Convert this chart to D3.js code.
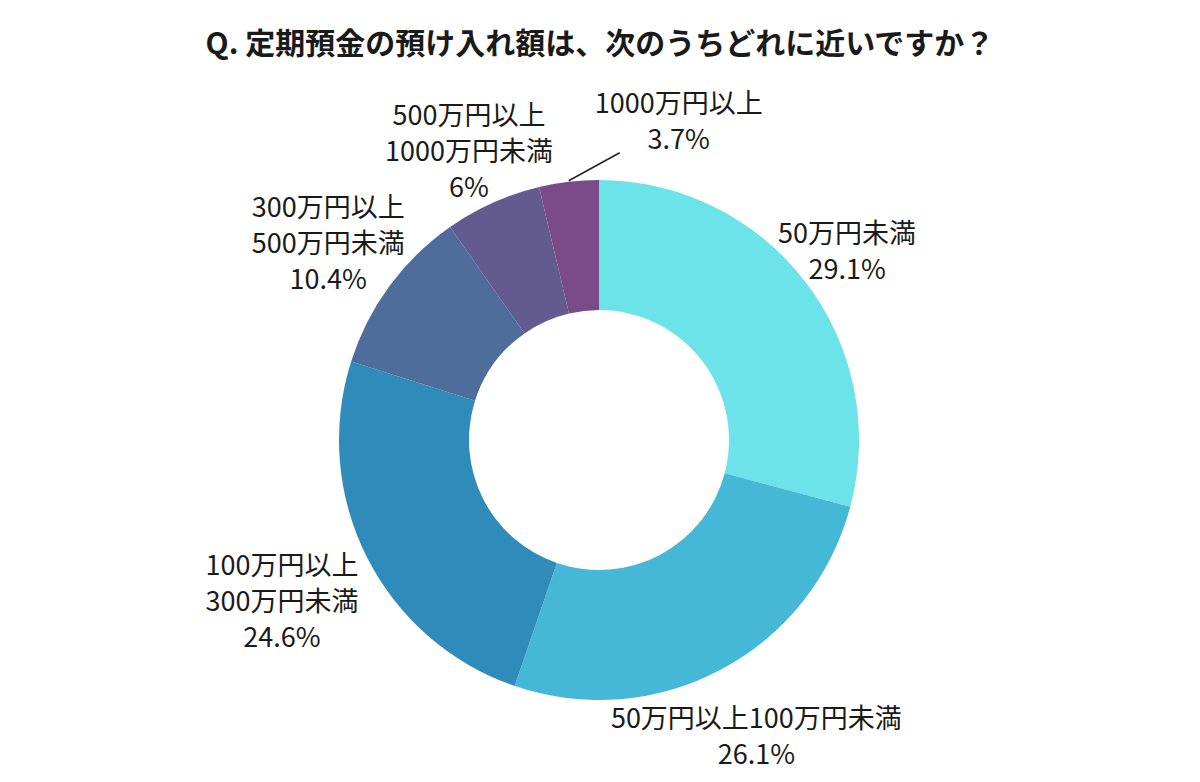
<!DOCTYPE html>
<html>
<head>
<meta charset="utf-8">
<script src="https://cdn.jsdelivr.net/npm/d3@7"></script>
<style>
  html, body { margin: 0; padding: 0; background: #fff; }
  text { font-family: "Noto Sans CJK JP", "Noto Sans", sans-serif; fill: #1a1a1a; }
</style>
</head>
<body>
<div id="canvas"></div>
<script>
//    data
var title = 'Q. 定期預金の預け入れ額は、次のうちどれに近いですか？';
var labels = [
  ['50万円未満'],
  ['50万円以上100万円未満'],
  ['100万円以上', '300万円未満'],
  ['300万円以上', '500万円未満'],
  ['500万円以上', '1000万円未満'],
  ['1000万円以上']
];
var values = [29.1, 26.1, 24.6, 10.4, 6, 3.7];
var colors = ['#6ce3e8', '#45b8d7', '#2f8bba', '#4f6d9b', '#635b8f', '#7a4a8a'];

//    layout
var width = 1200, height = 782;
var cx = 599, cy = 440;
var r_out = 260, r_in = 130;
var lineH = 36;
// distance of each label block centre from the middle
var labelR = [313, 334, 355, 336, 318, 0];

var svg = d3.select('#canvas')
  .append('svg')
  .attr('width', width)
  .attr('height', height);

svg.append('text')
  .attr('x', width / 2)
  .attr('y', 41)
  .attr('text-anchor', 'middle')
  .attr('dominant-baseline', 'central')
  .style('font-size', '30px')
  .style('font-weight', 'bold')
  .text(title);

var pie = d3.pie().sort(null).value(function(d) { return d; });
var arcs = pie(values);

var arc = d3.arc().outerRadius(r_out).innerRadius(r_in);

var g = svg.append('g')
  .attr('transform', 'translate(' + cx + ',' + cy + ')');

g.selectAll('.arc')
  .data(arcs)
  .enter()
  .append('path')
  .attr('class', 'arc')
  .attr('d', arc)
  .attr('fill', function(d, i) { return colors[i]; });

//    labels
arcs.forEach(function(d, i) {
  var mid = (d.startAngle + d.endAngle) / 2;
  var lines = labels[i].concat([d.data + '%']);
  var x, y;
  if (labelR[i] > 0) {
    x = labelR[i] * Math.sin(mid);
    y = -labelR[i] * Math.cos(mid);
  } else {
    // small slice: leader line out of the ring
    var x0 = (r_out + 1) * Math.sin(mid), y0 = -(r_out + 1) * Math.cos(mid);
    var x1 = x0 + 51, y1 = y0 - 28;
    g.append('line')
      .attr('x1', x0).attr('y1', y0)
      .attr('x2', x1).attr('y2', y1)
      .attr('stroke', '#222')
      .attr('stroke-width', 1.5);
    x = x1 + 59;
    y = y1 - 33;
  }
  var t = g.append('text')
    .attr('text-anchor', 'middle')
    .style('font-size', '27px');
  lines.forEach(function(s, k) {
    t.append('tspan')
      .attr('x', x)
      .attr('y', y + (k - (lines.length - 1) / 2) * lineH)
      .attr('dominant-baseline', 'central')
      .text(s);
  });
});
</script>
</body>
</html>
